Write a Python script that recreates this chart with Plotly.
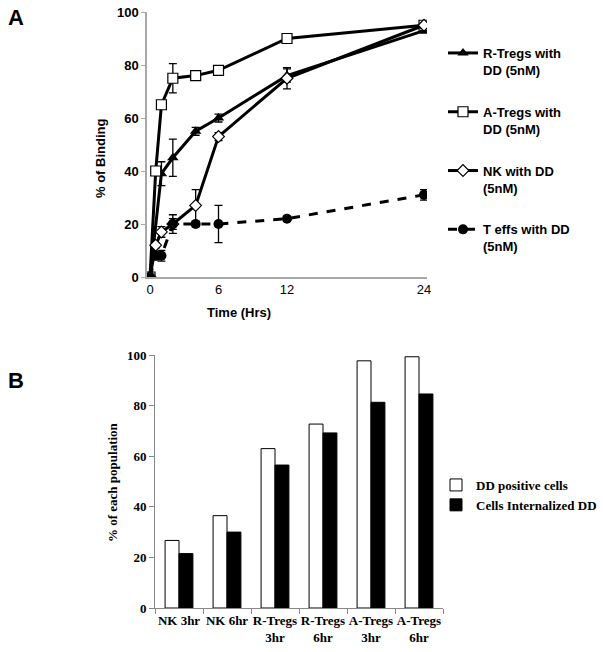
import plotly.graph_objects as go

# ---------------- Panel A data ----------------
time_hrs = [0, 0.5, 1, 2, 4, 6, 12, 24]
r_tregs = [0, None, 39, 45, 55, 60, 76, 93]
r_tregs_err = [0, 0, 4.5, 7, 1.5, 1.5, 2.5, 1]
a_tregs = [0, 40, 65, 75, 76, 78, 90, 95]
a_tregs_err = [0, 1.5, 1, 5.5, 0.5, 0.5, 0.5, 0.5]
nk = [0, 12, 17, 20, 27, 53, 75, 95]
nk_err = [0, 1, 2, 2, 6, 1.5, 4, 1]
t_effs = [0, 8, 8, 20, 20, 20, 22, 31]
t_effs_err = [0, 1.5, 2, 3.5, 1, 7, 1, 2]
time_ticks = [0, 6, 12, 24]

# ---------------- Panel B data ----------------
populations = ["NK 3hr", "NK 6hr", "R-Tregs<br>3hr", "R-Tregs<br>6hr",
               "A-Tregs<br>3hr", "A-Tregs<br>6hr"]
dd_positive = [26.7, 36.5, 63.0, 72.7, 97.7, 99.3]
internalized = [21.5, 30.0, 56.5, 69.2, 81.3, 84.6]

W, H = 603, 652


def px_x(p):
    return p / W


def px_y(p):
    return 1 - p / H


fontA = dict(family="Liberation Sans, Arial, sans-serif", size=13, color="black")
fontB = dict(family="Liberation Serif, Times New Roman, serif", size=13, color="black")

fig = go.Figure()


def err(arr):
    return dict(type="data", array=arr, color="black", thickness=1.3, width=4, visible=True)


fig.add_trace(go.Scatter(
    x=time_hrs, y=r_tregs, name="R-Tregs with<br>DD (5nM)", mode="lines+markers",
    connectgaps=True, line=dict(color="black", width=3),
    marker=dict(symbol="triangle-up", size=10, color="black"),
    error_y=err(r_tregs_err), xaxis="x", yaxis="y", legend="legend", legendgroup="g1"))
fig.add_trace(go.Scatter(
    x=time_hrs, y=a_tregs, name="A-Tregs with<br>DD (5nM)", mode="lines+markers",
    line=dict(color="black", width=3),
    marker=dict(symbol="square", size=10, color="white", line=dict(color="black", width=1.2)),
    error_y=err(a_tregs_err), xaxis="x", yaxis="y", legend="legend", legendgroup="g2"))
fig.add_trace(go.Scatter(
    x=time_hrs, y=nk, name="NK with DD<br>(5nM)", mode="lines+markers",
    line=dict(color="black", width=3),
    marker=dict(symbol="diamond", size=9, color="white", line=dict(color="black", width=1.2)),
    error_y=err(nk_err), xaxis="x", yaxis="y", legend="legend", legendgroup="g3"))
fig.add_trace(go.Scatter(
    x=time_hrs, y=t_effs, name="T effs with DD<br>(5nM)", mode="lines+markers",
    line=dict(color="black", width=3, dash="dash"),
    marker=dict(symbol="circle", size=10, color="black"),
    error_y=err(t_effs_err), xaxis="x", yaxis="y", legend="legend", legendgroup="g4"))

fig.add_trace(go.Bar(
    x=populations, y=dd_positive, name="DD positive cells",
    marker=dict(color="white", line=dict(color="black", width=1)),
    xaxis="x2", yaxis="y2", legend="legend2"))
fig.add_trace(go.Bar(
    x=populations, y=internalized, name="Cells Internalized DD",
    marker=dict(color="black", line=dict(color="black", width=1)),
    xaxis="x2", yaxis="y2", legend="legend2"))

axis_grey = "#a8a8a8"

fig.update_layout(
    width=W, height=H,
    margin=dict(l=0, r=0, t=0, b=0, autoexpand=False),
    paper_bgcolor="white", plot_bgcolor="white",
    showlegend=True,
    bargap=0.42, bargroupgap=0,
    barmode="group",
    xaxis=dict(domain=[px_x(147), px_x(427)], range=[-0.263, 24.263],
               tickvals=time_ticks, showline=True, linecolor=axis_grey, linewidth=1.5,
               showgrid=False, zeroline=False, ticks="", tickfont=fontA,
               anchor="y", fixedrange=True, automargin=False),
    yaxis=dict(domain=[px_y(277), px_y(12)], range=[0, 100], dtick=20,
               showline=True, linecolor=axis_grey, linewidth=1.5,
               showgrid=False, zeroline=False, ticks="outside", ticklen=4,
               tickcolor=axis_grey, tickfont=fontA, anchor="x", fixedrange=True,
               automargin=False),
    xaxis2=dict(domain=[px_x(155), px_x(443)], showline=True, linecolor="#888888",
                linewidth=1, showgrid=False, zeroline=False, ticks="outside",
                tickson="boundaries", ticklen=5, tickcolor="#888888", tickangle=0,
                tickfont=fontB, anchor="y2", fixedrange=True, automargin=False),
    yaxis2=dict(domain=[px_y(608), px_y(355)], range=[0, 100], dtick=20,
                showline=True, linecolor="#888888", linewidth=1, showgrid=False,
                zeroline=False, ticks="outside", ticklen=5, tickcolor="#888888",
                tickfont=fontB, anchor="x2", fixedrange=True, automargin=False),
    legend=dict(x=px_x(443), y=px_y(38), xanchor="left", yanchor="top",
                font=fontA, valign="top", tracegroupgap=22,
                bgcolor="rgba(0,0,0,0)", itemclick=False, itemdoubleclick=False),
    legend2=dict(x=px_x(436), y=px_y(495), xanchor="left", yanchor="middle",
                 font=fontB, bgcolor="rgba(0,0,0,0)", itemclick=False,
                 itemdoubleclick=False),
    annotations=[
        dict(text="<b>A</b>", x=px_x(6), y=px_y(18), xref="paper", yref="paper",
             xanchor="left", yanchor="middle", showarrow=False,
             font=dict(family="Liberation Sans, Arial, sans-serif", size=22, color="black")),
        dict(text="<b>B</b>", x=px_x(6), y=px_y(380), xref="paper", yref="paper",
             xanchor="left", yanchor="middle", showarrow=False,
             font=dict(family="Liberation Sans, Arial, sans-serif", size=22, color="black")),
        dict(text="<b>% of Binding</b>", x=px_x(100), y=px_y(159), xref="paper", yref="paper",
             xanchor="center", yanchor="middle",
             textangle=-90, showarrow=False, font=fontA),
        dict(text="<b>Time (Hrs)</b>", x=px_x(239), y=px_y(312), xref="paper", yref="paper",
             xanchor="center", yanchor="middle", showarrow=False, font=fontA),
        dict(text="<b>% of each population</b>", x=px_x(113), y=px_y(482), xref="paper",
             yref="paper", xanchor="center", yanchor="middle",
             textangle=-90, showarrow=False, font=fontB),
    ],
)

fig.update_xaxes(tickprefix="<b>", ticksuffix="</b>")
fig.update_yaxes(tickprefix="<b>", ticksuffix="</b>")
fig.for_each_trace(lambda t: t.update(name="<b>" + t.name + "</b>"))

# remove the default 8px body margin so the 603x652 figure fills the page exactly
fig.write_html(
    "out.html",
    config={"displayModeBar": False},
    post_script="document.body.style.margin='0';"
                "document.documentElement.style.overflow='hidden';",
)
